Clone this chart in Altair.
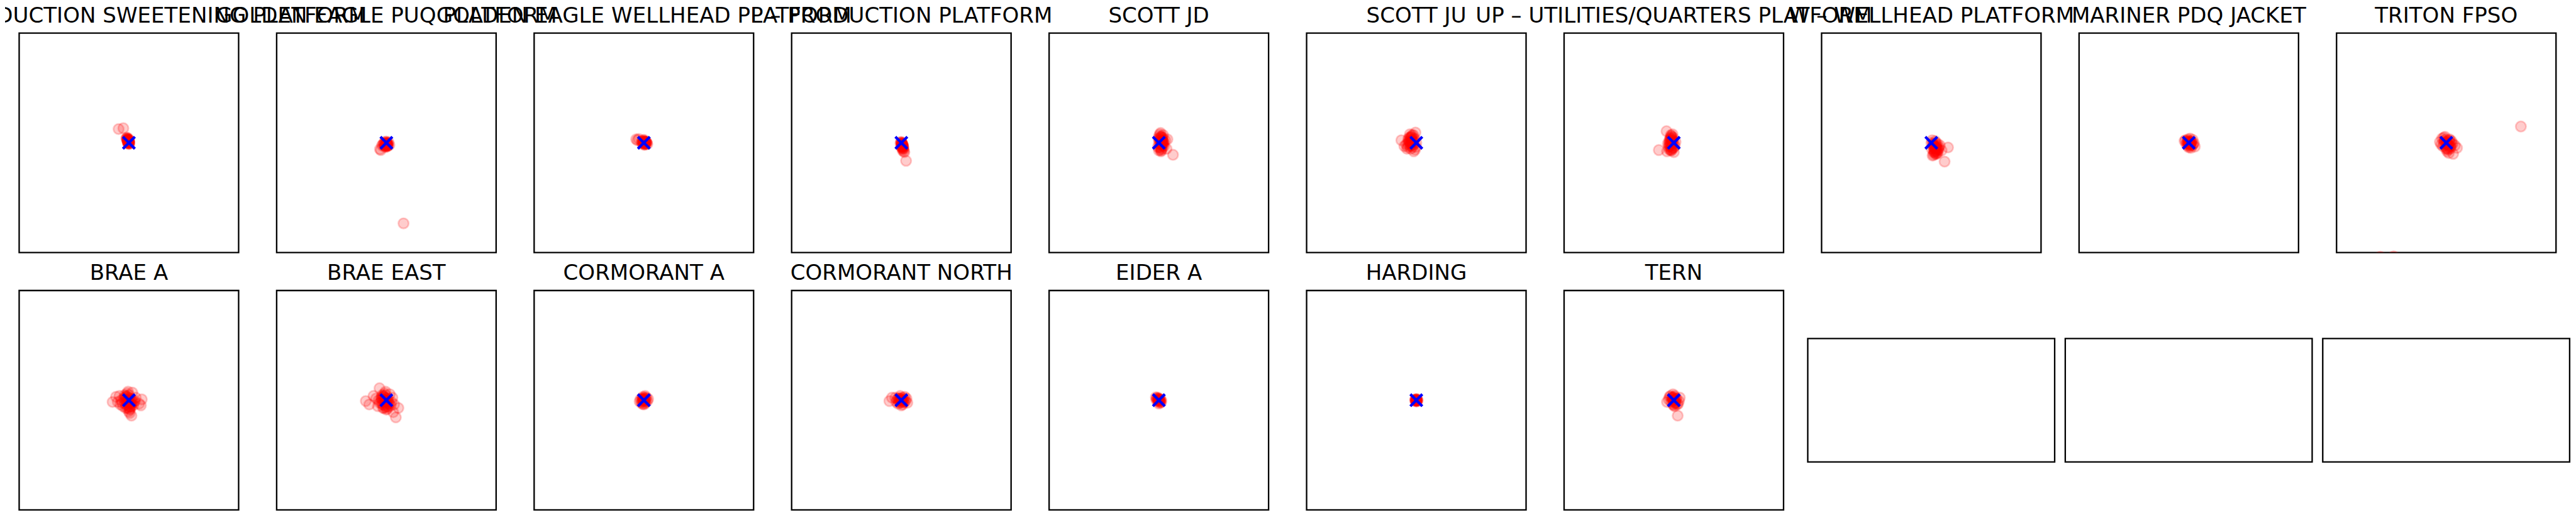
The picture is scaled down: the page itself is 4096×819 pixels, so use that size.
import altair as alt
import pandas as pd

S = 4096 / 6000  # reference px -> output px

TITLES_ROW1 = [
    "PS – PRODUCTION SWEETENING PLATFORM",
    "GOLDEN EAGLE PUQ PLATFORM",
    "GOLDEN EAGLE WELLHEAD PLATFORM",
    "P – PRODUCTION PLATFORM",
    "SCOTT JD",
    "SCOTT JU",
    "UP – UTILITIES/QUARTERS PLATFORM",
    "W – WELLHEAD PLATFORM",
    "MARINER PDQ JACKET",
    "TRITON FPSO",
]
TITLES_ROW2 = ["BRAE A", "BRAE EAST", "CORMORANT A", "CORMORANT NORTH", "EIDER A", "HARDING", "TERN"]

# offsets of each position fix from the installation centroid (east, north)
PS_X = [0, -1, -2, -3, -4, -5, 1, 0, -2, 1, -1, -3, 0, -6, -2, 1, -1, 0, -24, -13,
        -1, -2, -3, 0, -2, -1, -3, -4, 0, -2, -1, -3]
PS_Y = [0, 2, 4, 6, 9, 12, -2, -3, -1, 3, 8, 11, 5, 10, 7, -1, 0, 2, 32, 34,
        3, 5, 7, 1, 2, 6, 4, 8, 4, 9, -1, 1]
GEPUQ_X = [0, -3, 3, -6, 5, -2, 2, -8, 7, -4, 1, -1, 4, -5, 0, -10, -15, -13, 40,
           -1, 1, -2, 2, 0, -3, 3, -1, 1, -4, 2, 0]
GEPUQ_Y = [0, 2, -3, -1, 1, -6, -8, -4, -5, -9, -2, -10, -7, -3, 3, -6, -15, -17, -188,
           -2, -4, -5, -1, -6, -3, -5, -8, 0, -6, -7, -2]
GEWH_X = [0, 3, -2, 5, -4, 2, 7, -1, 4, -3, 6, 1, -5, 8, 0, 3, -18, -15, -12,
          1, 2, 0, 3, -1, 2, 4, -2, 1, 3, 0, 5]
GEWH_Y = [0, 3, -2, 1, 2, -4, -1, 5, -3, 4, 2, -5, 0, -3, 7, 1, 8, 6, 9,
          1, -1, 2, 2, 0, 3, 0, 1, -2, -2, 4, 1]
P_X = [0, 1, -1, 2, 3, 1, 4, 2, 5, 3, 6, 0, -2, 4, 1, 7, 11,
       1, 2, 3, 2, 1, 3, 4, 2, 3, 1, 4, 2]
P_Y = [0, -3, 2, -6, -9, -1, -12, -4, -15, -18, -20, 1, -2, -8, -10, -22, -42,
       -5, -7, -4, -10, -2, -13, -8, -1, -6, -9, -11, -14]
JD_X = [0, 3, 6, 9, -2, 1, 4, 8, 12, 2, 5, 10, -1, 3, 7, 11, 15, 0, 6, 18, 20, 33, 4,
        4, 6, 8, 5, 7, 3, 9, 6, 4, 8, 10, 2, 5, 7, 9, 3, 11, 6]
JD_Y = [0, 8, -4, 12, -10, 16, -16, 4, -8, 20, -20, 18, 10, -12, 0, -2, 6, -18, 14, -14, 8, -28, 23,
        2, -2, 4, -6, 6, -3, 0, 10, -10, -8, 6, 6, 14, -14, -4, 12, 2, -18]
JU_X = [0, -4, -8, -12, -16, -20, -3, -7, -11, -15, -19, -24, -2, -6, -10, -14, -28, -35, -22, -1,
        -10, -12, -14, -8, -16, -12, -9, -13, -6, -18, -11, -15, -7, -10, -17, -5, -13, -20]
JU_Y = [0, 10, -6, 14, 4, -10, -16, 18, -2, 20, 8, -4, 24, -20, 6, 12, -8, 6, -14, -10,
        0, 4, -2, 6, 0, -6, -10, 10, 2, 4, 14, -8, -4, 18, 12, 8, -14, -2]
UP_X = [0, -4, -8, -12, 2, -2, -6, -10, -14, -16, 4, 0, -5, -9, -3, -7, -11, -1, -35, -17,
        -5, -7, -4, -8, -6, -3, -9, -5, -7, -2, -10, -4, -8, -6, -3, -11, -5, -7]
UP_Y = [0, 6, -4, -10, -8, 12, 16, -16, -2, -20, 2, -22, -14, 8, 20, -18, 4, -12, -17, 27,
        2, -2, -6, 6, 10, -12, -8, 14, -16, 4, 0, -2, 12, -10, 8, -4, -18, 18]
W_X = [0, 4, 8, 12, 16, 2, 6, 10, 14, 18, 1, 5, 9, 13, 20, 3, 7, 24, 31, 39,
       8, 10, 12, 6, 14, 9, 11, 7, 13, 5, 15, 10, 8, 12, 4, 16, 11, 6]
W_Y = [0, -4, -8, -12, -16, 6, -20, -26, -2, -10, -14, -28, 4, -22, -6, -30, -24, -18, -44, -11,
       -10, -14, -8, -6, -18, -20, -4, -16, -12, -2, -24, 0, -22, -26, -8, -14, -18, -12]
MAR_X = [0, -4, 4, -8, 8, -2, 2, -6, 6, 10, -10, 0, 3, -3, 12, 5, 14, 9,
         0, 2, -2, 3, 1, -1, 4, -3, 2, 5, 0, -1, 3, 6]
MAR_Y = [0, 3, -3, 6, -6, 8, -8, -2, 2, -4, 4, -11, 10, -7, -1, -12, -9, 7,
         1, -1, 2, 1, -3, -2, -4, 0, 4, 0, -5, 5, -6, 3]
TRI_X = [0, -5, 5, -10, 10, -15, 15, -3, 3, -8, 8, 20, -12, 12, 0, 6, -6, 25, 16, 174, -154, -123,
         2, 4, 0, 6, -2, 8, 3, 5, -4, 10, 1, 7, -6, 12, 4, -1, 9, 2]
TRI_Y = [0, 5, -5, 10, -10, 2, -2, 14, -14, -8, 8, -6, -4, 4, -15, -24, 12, -12, -26, 38, -266, -265,
         -2, -4, 2, -6, -4, 0, 4, -10, 2, -8, -12, 6, -2, -2, -16, 8, -14, -20]
BA_X = [0, -6, 6, -12, 12, -18, -4, 4, -10, 10, -16, 16, -2, 2, -8, 8, -22, -14, 14, 0, -26, 24, 6, -20, 2,
        -2, 0, -4, 2, -6, 4, -1, -3, 3, -8, 1, -5, 5, -7, 0, 6, -10, 2, -4, 8, -9, 4,
        -38, -30, 28, 30]
BA_Y = [0, 8, -8, 4, -4, 0, 16, -16, 12, -12, -6, 6, 20, -20, -18, 18, 10, -14, -2, -26, -4, -8, -36, -10, -30,
        -2, -6, 2, -10, -4, -2, 6, -12, 4, 2, -16, 10, -8, -10, 12, 2, -6, -22, -18, -4, 8, -14,
        -4, 8, -12, 2]
BE_X = [0, -6, 6, -12, 12, -18, 18, -4, 4, -10, 10, -16, -24, -2, 2, -8, 8, 14, -20, -16, -48, -40, 22, 28, 16, -30,
        -4, -2, -6, 0, -8, 2, -3, -5, 1, -10, -1, -7, 3, -9, -2, 4, -12, 0, -6, 6, -11, 2]
BE_Y = [0, 8, -8, 4, -4, 0, -10, 16, -16, 12, -12, -6, 4, 20, -20, -18, 14, 6, -14, 28, -2, -10, -40, -18, -28, 10,
        -2, -6, 2, -10, -4, -2, 6, -12, 4, 2, -16, 10, -8, -10, 12, 2, -6, -22, -18, -4, 8, -14]
CA_X = [0, -4, 4, -8, 8, -2, 2, -6, 6, 0, -10, 10, 3, -3,
        1, -1, 2, -2, 0, 3, -3, 1, -1, 4, -4, 2]
CA_Y = [0, 4, -4, 2, -2, 8, -8, -6, 6, -10, -3, 3, 10, -9,
        1, -1, -2, 2, 3, 0, -3, -5, 5, 3, 1, 6]
CN_X = [0, -5, 5, -10, 10, -14, 14, -3, 3, -8, 8, 0, -12, 12, -28, -22,
        1, -1, 2, -2, 4, -4, 0, 0, 6, -6, 3, -3, 7, -7]
CN_Y = [0, 5, -5, 2, -2, 6, -6, 10, -10, -8, 8, -12, -4, 4, -2, 6,
        1, -1, -3, 3, 0, 0, 5, -5, 2, -2, 6, -6, -4, 4]
EA_X = [0, -3, 3, -6, 6, -2, 2, 0, -5, 5, -7,
        1, -1, 2, -2, 0, 3, -3, 1, -1, 4]
EA_Y = [0, 3, -3, 1, -1, 6, -6, -8, 5, -5, 7,
        1, -1, -2, 2, 3, 0, -1, -4, 4, 2]
HA_X = [0, -2, 2, -3, 3, 0, 1, -1, 1, -1, 1, -1, 0, 2, -2, 0]
HA_Y = [0, 2, -2, 0, 0, -3, 3, -2, 1, -1, -1, 1, 2, 0, 0, -1]
TE_X = [0, -4, 4, -8, 8, -12, 12, -2, 2, -6, 6, 0, -10, 10, -16, 14, 9,
        1, -1, 2, -2, 0, 3, -3, 1, -1, 4, -4, 2, -2, 5]
TE_Y = [0, 6, -6, 10, -10, 2, -2, 14, -14, -4, 4, -12, 8, -8, -4, 6, -36,
        2, -2, -4, 4, 6, 0, 0, -8, 8, -6, 6, 10, -10, 3]

CENTROID_X = [0]
CENTROID_Y = [0]
LIMIT = 256
EMPTY_SLOTS = ["empty 1", "empty 2", "empty 3"]

ROW1 = [(PS_X, PS_Y), (GEPUQ_X, GEPUQ_Y), (GEWH_X, GEWH_Y), (P_X, P_Y), (JD_X, JD_Y),
        (JU_X, JU_Y), (UP_X, UP_Y), (W_X, W_Y), (MAR_X, MAR_Y), (TRI_X, TRI_Y)]
ROW2 = [(BA_X, BA_Y), (BE_X, BE_Y), (CA_X, CA_Y), (CN_X, CN_Y), (EA_X, EA_Y), (HA_X, HA_Y), (TE_X, TE_Y)]

PANEL = 512 * S
GAP = 88 * S
LINE = 3.4 * S
TITLE1_DX = 8


def panel(title, xs, ys, dx=0):
    sc = alt.Scale(domain=[-LIMIT, LIMIT], nice=False, zero=False)
    pts = alt.Chart(pd.DataFrame({"east": xs, "north": ys})).mark_point(
        shape="circle", filled=True, fill="#ff0000", stroke="#ff0000",
        fillOpacity=0.2, strokeOpacity=0.2, opacity=1, strokeWidth=4.0 * S,
        size=(24 * S) ** 2, clip=True,
    ).encode(
        x=alt.X("east:Q", scale=sc, axis=None),
        y=alt.Y("north:Q", scale=sc, axis=None),
    )
    cen = alt.Chart(pd.DataFrame({"east": CENTROID_X, "north": CENTROID_Y})).mark_point(
        shape="M-1,-1L1,1M-1,1L1,-1", filled=False, stroke="#0000ff", strokeOpacity=1,
        opacity=1, strokeWidth=6.5 * S, strokeCap="butt", size=(28 * S) ** 2, clip=True,
    ).encode(
        x=alt.X("east:Q", scale=sc, axis=None),
        y=alt.Y("north:Q", scale=sc, axis=None),
    )
    return alt.layer(pts, cen).properties(
        width=PANEL, height=PANEL, title=alt.TitleParams(text=title, dx=dx))


cells = [panel(t, xs, ys, dx=(TITLE1_DX if i == 0 else 0))
         for i, (t, (xs, ys)) in enumerate(zip(TITLES_ROW1, ROW1))]
cells += [panel(t, xs, ys) for t, (xs, ys) in zip(TITLES_ROW2, ROW2)]

# three empty axes: wider and shorter frames, vertically centred in the row
EMPTY_W = 576 * S
EMPTY_H = 288 * S
E_LEFT = -22.0
E_TOP = (PANEL - EMPTY_H) / 2
for slot in EMPTY_SLOTS:
    e = alt.Chart(pd.DataFrame({"slot": [slot]})).mark_rect(
        fill="white", stroke="black", strokeWidth=LINE,
    ).encode(
        x=alt.X("slot:N", axis=None,
                scale=alt.Scale(range=[E_LEFT, E_LEFT + EMPTY_W], paddingInner=0, paddingOuter=0)),
        y=alt.Y("slot:N", axis=None,
                scale=alt.Scale(range=[E_TOP, E_TOP + EMPTY_H], paddingInner=0, paddingOuter=0)),
    ).properties(width=PANEL, height=PANEL, view=alt.ViewBackground(strokeOpacity=0))
    cells.append(e)

chart = alt.concat(
    *cells, columns=10, spacing=GAP, bounds="flush", align="all",
).properties(
    padding={"left": -175.5 + TITLE1_DX, "top": -1, "right": 0, "bottom": 0},
    background="white",
).configure_view(
    stroke="black", strokeWidth=LINE,
).configure_title(
    font="DejaVu Sans", fontSize=50 * S, fontWeight="normal", color="black",
    anchor="middle", baseline="alphabetic", offset=9.5, frame="group",
)

chart.save("out.html", embed_options={"renderer": "svg", "actions": False})
